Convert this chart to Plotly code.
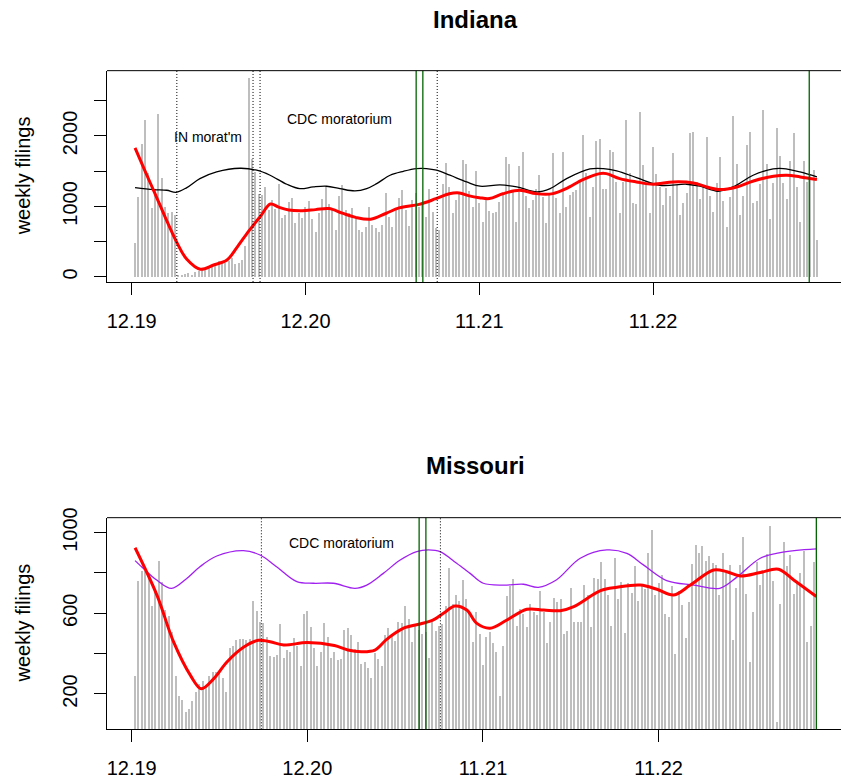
import plotly.graph_objects as go

# ---------------- data ----------------
# weekly eviction filings, Indiana (week 1 = first week of Dec 2019)
filings_in = [
    490, 1145, 1890, 2230, 1480, 990, 1250, 2320, 1415, 1000,
    910, 920, 880, 33, 33, 47, 57, 33, 80, 95,
    113, 128, 151, 170, 199, 236, 222, 208, 236, 270,
    189, 199, 246, 445, 2820, 1675, 1500, 1180, 1168, 1287,
    955, 1100, 965, 1324, 837, 885, 1074, 1121, 776, 908,
    837, 1000, 1088, 823, 639, 908, 1107, 1287, 1040, 988,
    672, 1154, 1310, 955, 908, 979, 861, 672, 648, 719,
    993, 743, 700, 648, 743, 1192, 861, 719, 955, 1121,
    1239, 955, 728, 1097, 1192, 1000, 1050, 861, 1249, 932,
    700, 672, 1324, 1627, 1287, 908, 1097, 1200, 1665, 1608,
    1230, 1000, 1514, 1060, 780, 1097, 935, 908, 930, 1070,
    1201, 1712, 1608, 1215, 790, 1580, 1783, 1155, 980, 1097,
    1250, 1452, 1140, 770, 1190, 1760, 1120, 908, 1783, 1000,
    1165, 1215, 1240, 1380, 2020, 1476, 861, 1277, 1939, 1958,
    1249, 1249, 1807, 1779, 1345, 908, 1357, 2233, 1485, 1060,
    1036, 2351, 1589, 1334, 908, 1845, 1462, 1277, 1026, 1263,
    1150, 1769, 1310, 885, 1050, 1200, 2053, 2067, 1345, 1107,
    1287, 1996, 1155, 932, 1334, 1703, 1088, 710, 1135, 2289,
    1608, 885, 1155, 1873, 2067, 1050, 1088, 1324, 2374, 1608,
    823, 1343, 2124, 1722, 1334, 1107, 1651, 2043, 1277, 790,
    1650, 1350, 1450, 1523, 530,
]
weeks_in = list(range(1, len(filings_in) + 1))

# weekly eviction filings, Missouri
filings_mo = [
    292, 764, 813, 810, 797, 640, 720, 863, 755, 620,
    590, 511, 289, 193, 174, 114, 127, 169, 210, 251,
    268, 243, 292, 309, 309, 312, 279, 210, 428, 441,
    471, 474, 474, 471, 474, 664, 613, 557, 554, 483,
    392, 383, 395, 549, 379, 420, 411, 478, 441, 342,
    598, 612, 532, 428, 342, 408, 554, 483, 380, 408,
    372, 377, 521, 531, 494, 425, 458, 350, 359, 330,
    283, 405, 375, 342, 494, 527, 488, 466, 560, 552,
    636, 573, 458, 550, 520, 499, 510, 379, 557, 512,
    540, 549, 640, 825, 648, 692, 664, 767, 673, 610,
    461, 607, 500, 345, 483, 507, 453, 412, 193, 441,
    686, 735, 772, 540, 624, 600, 532, 650, 610, 594,
    714, 610, 455, 560, 676, 656, 673, 499, 514, 727,
    560, 557, 560, 740, 693, 532, 775, 772, 854, 772,
    693, 537, 874, 673, 755, 504, 752, 700, 835, 664,
    742, 722, 901, 1016, 693, 752, 790, 598, 582, 735,
    400, 714, 645, 478, 656, 846, 940, 903, 934, 860,
    887, 850, 840, 693, 903, 800, 840, 468, 727, 840,
    979, 697, 359, 610, 858, 742, 810, 896, 1032, 760,
    61, 648, 953, 835, 890, 697, 760, 800, 912, 458,
    540, 854,
]
weeks_mo = list(range(1, len(filings_mo) + 1))

# smoothed filing trend (red) and seasonal baseline (black / purple)
trend_in_wk = [1, 4, 7, 10, 13.5, 16.5, 20.5, 24.5, 28.5, 31.5, 35, 38.5, 41.5,
               44, 47, 51, 55, 59, 63, 67, 71.5, 76, 80, 86, 91, 95, 98, 101,
               104, 107, 111, 116, 121, 126, 130, 135, 140, 142, 146, 151, 156,
               162, 168, 172, 176, 181, 186, 192, 196, 200, 205]
trend_in = [1830, 1500, 1180, 850, 490, 250, 110, 170, 240, 420, 650, 860, 1035,
            990, 950, 940, 955, 970, 905, 845, 820, 900, 980, 1030, 1110, 1180,
            1192, 1150, 1125, 1112, 1180, 1230, 1182, 1182, 1253, 1381, 1466,
            1466, 1395, 1348, 1315, 1348, 1334, 1277, 1239, 1277, 1362, 1428,
            1443, 1419, 1381]

base_in_wk = [1, 6.5, 10.5, 13.3, 16.5, 20.4, 25.4, 32.4, 37.4, 41.4, 46.4, 50.3,
              54.3, 58.3, 62.3, 66.8, 70.3, 73.3, 77.3, 81.3, 85.2, 88.2, 91.2,
              95.2, 100.2, 104.2, 110.2, 115.2, 121.2, 125.2, 130.1, 137.1,
              141.1, 145.1, 151, 158, 166, 170, 175.4, 179.9, 185.9, 191.9,
              194.9, 199.9, 205]
base_in = [1268, 1239, 1230, 1201, 1268, 1395, 1490, 1542, 1514, 1443, 1315, 1253,
           1277, 1287, 1253, 1220, 1253, 1324, 1443, 1499, 1537, 1537, 1514,
           1443, 1348, 1287, 1306, 1277, 1206, 1253, 1395, 1532, 1537, 1504,
           1410, 1301, 1315, 1287, 1216, 1277, 1443, 1532, 1537, 1490, 1419]

trend_mo_wk = [1, 7.5, 12.4, 17.4, 20.6, 24.3, 28.2, 33.2, 37.5, 41, 45, 52, 60,
               64, 68, 72, 75.5, 80.5, 85.4, 89.3, 92.3, 95.7, 99.2, 102.2, 106.1,
               111.1, 117, 122, 126.9, 130.9, 138.8, 143.7, 150.6, 155.5, 160.5,
               165.4, 172.3, 176.2, 180.2, 186.1, 191.5, 196, 202.7]
trend_mo = [925, 689, 458, 292, 226, 276, 359, 433, 466, 459, 443, 455, 440,
            418, 410, 418, 471, 526, 547, 567, 600, 636, 616, 550, 526, 567, 620,
            616, 613, 633, 712, 729, 740, 719, 691, 740, 815, 806, 785, 802, 818,
            765, 683]

base_mo_wk = [1, 3.4, 7.4, 11.8, 16.3, 20.2, 25.2, 33.1, 38, 42.9, 48.9, 53.8,
              59.7, 66.1, 69.6, 74.5, 79.5, 84.4, 87.9, 91.3, 96.2, 100.2, 104.1,
              110.1, 116, 120.4, 125.7, 132.8, 140.7, 146.6, 151.5, 158.4, 166.4,
              174.1, 179.1, 186.1, 192, 202.7]
base_mo = [861, 823, 765, 724, 773, 831, 884, 911, 889, 831, 757, 749, 749, 724,
           740, 798, 864, 906, 914, 906, 848, 798, 749, 740, 744, 729, 765, 873,
           914, 897, 840, 762, 740, 724, 778, 873, 901, 919]

tick_weeks = [0, 52, 104, 156]
tick_labels = ["12.19", "12.20", "11.21", "11.22"]

in_yticks = [0, 500, 1000, 1500, 2000, 2500]
in_ylabels = ["0", "", "1000", "", "2000", ""]
mo_yticks = [200, 400, 600, 800, 1000]
mo_ylabels = ["200", "", "600", "", "1000"]

# policy markers (week positions)
in_dotted = [13.5, 36.3, 38.4, 91.4]
mo_dotted = [38.4, 91.4]
green_marks = [85.1, 87.1, 202.7]

FONT = "Liberation Sans, Arial, Helvetica, sans-serif"
GREY = "#bebebe"

fig = go.Figure()

# Indiana panel
fig.add_trace(go.Bar(x=weeks_in, y=filings_in, width=0.32, marker_color=GREY,
                     marker_line_width=0, xaxis="x", yaxis="y"))
fig.add_trace(go.Scatter(x=base_in_wk, y=base_in, mode="lines",
                         line=dict(color="black", width=1.3, shape="spline", smoothing=1),
                         xaxis="x", yaxis="y"))
fig.add_trace(go.Scatter(x=trend_in_wk, y=trend_in, mode="lines",
                         line=dict(color="#ff0000", width=3, shape="spline", smoothing=1),
                         xaxis="x", yaxis="y"))

# Missouri panel
fig.add_trace(go.Bar(x=weeks_mo, y=filings_mo, width=0.32, marker_color=GREY,
                     marker_line_width=0, xaxis="x2", yaxis="y2"))
fig.add_trace(go.Scatter(x=base_mo_wk, y=base_mo, mode="lines",
                         line=dict(color="#a020f0", width=1.3, shape="spline", smoothing=1),
                         xaxis="x2", yaxis="y2"))
fig.add_trace(go.Scatter(x=trend_mo_wk, y=trend_mo, mode="lines",
                         line=dict(color="#ff0000", width=3, shape="spline", smoothing=1),
                         xaxis="x2", yaxis="y2"))

shapes = []
for xa, ya, dotted in (("x", "y", in_dotted), ("x2", "y2", mo_dotted)):
    for wk in dotted:
        shapes.append(dict(type="line", xref=xa, yref=f"{ya} domain", x0=wk, x1=wk,
                           y0=0, y1=1, line=dict(color="black", width=1, dash="1px,2px")))
    for wk in green_marks:
        shapes.append(dict(type="line", xref=xa, yref=f"{ya} domain", x0=wk, x1=wk,
                           y0=0, y1=1, line=dict(color="#006400", width=1.3)))
    # top edge of the plot box
    shapes.append(dict(type="line", xref=f"{xa} domain", yref=f"{ya} domain",
                       x0=0, x1=1, y0=1, y1=1, line=dict(color="black", width=1)))

annotations = [
    dict(text="<b>Indiana</b>", xref="paper", yref="paper", x=0.5015, y=0.9756,
         xanchor="center", yanchor="middle", showarrow=False,
         font=dict(size=24, family=FONT, color="black")),
    dict(text="<b>Missouri</b>", xref="paper", yref="paper", x=0.5015, y=0.4026,
         xanchor="center", yanchor="middle", showarrow=False,
         font=dict(size=24, family=FONT, color="black")),
    dict(text="IN morat'm", xref="x", yref="y", x=22.7, y=1989, showarrow=False,
         font=dict(size=14, family=FONT, color="black")),
    dict(text="CDC moratorium", xref="x", yref="y", x=62.2, y=2236, showarrow=False,
         font=dict(size=14, family=FONT, color="black")),
    dict(text="CDC moratorium", xref="x2", yref="y2", x=62.2, y=947, showarrow=False,
         font=dict(size=14, family=FONT, color="black")),
    dict(text="weekly filings", xref="paper", yref="y domain", x=-0.1144, y=0.5,
         xanchor="center", yanchor="middle", textangle=-90, showarrow=False,
         font=dict(size=20, family=FONT, color="black")),
    dict(text="weekly filings", xref="paper", yref="y2 domain", x=-0.1144, y=0.5,
         xanchor="center", yanchor="middle", textangle=-90, showarrow=False,
         font=dict(size=20, family=FONT, color="black")),
]

xcommon = dict(tickvals=tick_weeks, ticktext=tick_labels, ticks="outside", ticklen=12,
               tickwidth=1, tickcolor="black", showline=True, linecolor="black",
               linewidth=1, showgrid=False, zeroline=False, ticklabelstandoff=9,
               automargin=False,
               tickfont=dict(size=20, family=FONT, color="black"))
ycommon = dict(ticks="outside", ticklen=12, tickwidth=1, tickcolor="black",
               showline=True, linecolor="black", linewidth=1, showgrid=False,
               zeroline=False, tickangle=-90, automargin=False, ticklabelstandoff=9,
               tickfont=dict(size=20, family=FONT, color="black"))

fig.update_layout(
    width=841, height=780,
    margin=dict(l=107, r=0, t=0, b=0, autoexpand=False),
    paper_bgcolor="white", plot_bgcolor="white",
    showlegend=False, bargap=0,
    font=dict(family=FONT, color="black"),
    xaxis=dict(domain=[0, 1], anchor="y", range=[-7.39, 212.2], **xcommon),
    yaxis=dict(domain=[0.6385, 0.9094], anchor="x", range=[-71, 2926],
               tickvals=in_yticks, ticktext=in_ylabels, **ycommon),
    xaxis2=dict(domain=[0, 1], anchor="y2", range=[-7.31, 210.0], **xcommon),
    yaxis2=dict(domain=[0.0650, 0.3363], anchor="x2", range=[25, 1074],
                tickvals=mo_yticks, ticktext=mo_ylabels, **ycommon),
    shapes=shapes,
    annotations=annotations,
)

fig.write_html("out.html")
